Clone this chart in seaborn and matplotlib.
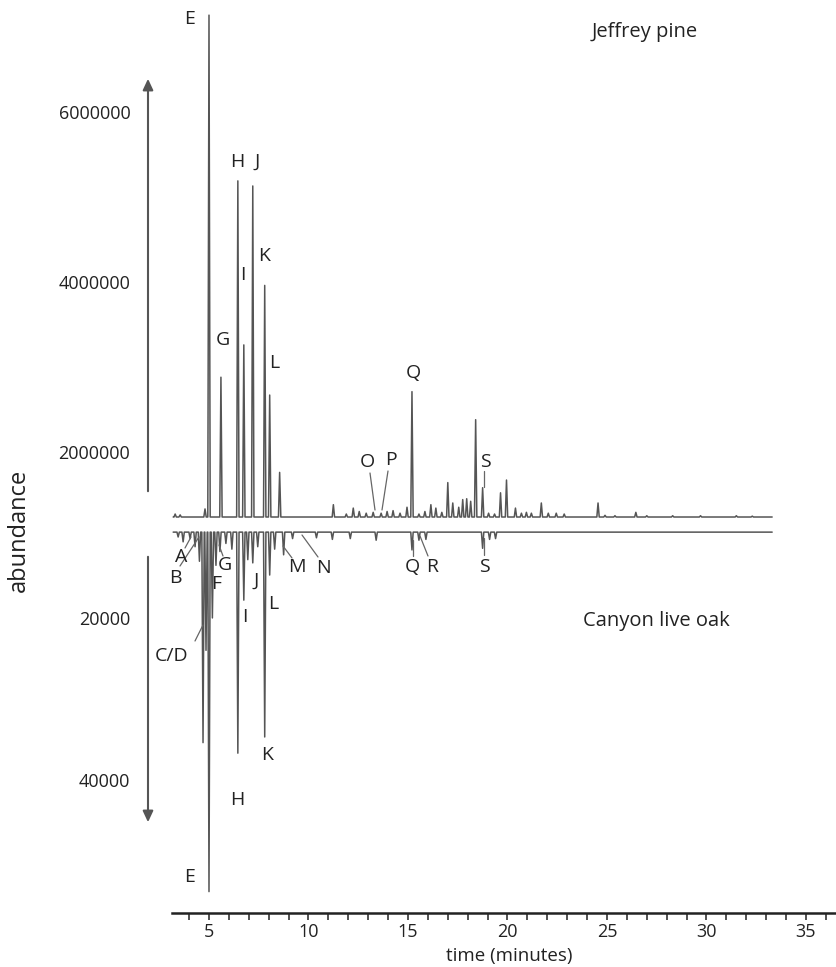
import matplotlib
matplotlib.use("Agg")
import matplotlib.pyplot as plt
import seaborn as sns
import pandas as pd
from matplotlib.lines import Line2D
from matplotlib.patches import FancyArrowPatch

# ---------------- data ----------------
pine_peak_time = [3.30, 3.55, 4.80, 5.00, 5.60, 6.45, 6.75, 7.20, 7.80, 8.05, 8.55,
                  11.25, 11.90, 12.25, 12.55, 12.90, 13.25, 13.65, 13.95, 14.25, 14.60,
                  14.95, 15.20, 15.55, 15.85, 16.15, 16.40, 16.70, 17.00, 17.25, 17.55,
                  17.75, 17.95, 18.15, 18.40, 18.75, 19.05, 19.35, 19.65, 19.95, 20.40,
                  20.70, 20.95, 21.20, 21.70, 22.05, 22.45, 22.85, 24.55, 24.90, 25.40,
                  26.45, 27.00, 28.30, 29.70, 31.50, 32.30]
pine_peak_abund = [1.27e6, 1.26e6, 1.33e6, 7.14e6, 2.88e6, 5.19e6, 3.26e6, 5.13e6, 3.96e6, 2.67e6, 1.76e6,
                   1.38e6, 1.27e6, 1.34e6, 1.30e6, 1.28e6, 1.29e6, 1.28e6, 1.30e6, 1.31e6, 1.28e6,
                   1.35e6, 2.71e6, 1.27e6, 1.30e6, 1.38e6, 1.34e6, 1.29e6, 1.64e6, 1.40e6, 1.35e6,
                   1.44e6, 1.45e6, 1.42e6, 2.38e6, 1.58e6, 1.28e6, 1.27e6, 1.52e6, 1.67e6, 1.34e6,
                   1.28e6, 1.29e6, 1.28e6, 1.40e6, 1.28e6, 1.28e6, 1.27e6, 1.40e6, 1.255e6, 1.25e6,
                   1.29e6, 1.25e6, 1.25e6, 1.25e6, 1.25e6, 1.245e6]
pine_baseline = 1.235e6

oak_peak_time = [3.45, 3.70, 4.05, 4.30, 4.52, 4.70, 4.85, 5.00, 5.17, 5.35, 5.55,
                 5.85, 6.15, 6.45, 6.75, 6.95, 7.20, 7.45, 7.80, 8.05, 8.30, 8.75,
                 9.20, 10.40, 11.20, 12.10, 13.40, 15.20, 15.55, 15.90, 18.75, 19.10, 19.40]
oak_peak_abund = [10000, 10600, 10200, 11200, 13000, 35400, 24000, 53800, 20000, 13500, 11800,
                  10800, 11500, 36700, 17800, 12800, 13200, 11200, 34700, 14700, 11500, 12200,
                  10200, 10100, 10300, 10200, 10400, 11600, 10400, 10300, 11400, 10300, 10200]
oak_baseline = 9400

run_start, run_end = 3.2, 33.3

pine_ticks = [2000000, 4000000, 6000000]
oak_ticks = [20000, 40000]
time_ticks = [5, 10, 15, 20, 25, 30, 35]

pine_labels = ["E", "H", "J", "K", "I", "G", "L", "Q", "O", "P", "S"]
oak_labels = ["A", "B", "C/D", "F", "G", "J", "L", "I", "M", "N", "Q", "R", "S", "K", "H", "E"]

# ---------------- build traces ----------------
def trace(times, heights, base, hw=0.06):
    xs, ys = [run_start], [base]
    for t, h in zip(times, heights):
        xs += [t - hw, t, t + hw]
        ys += [base, h, base]
    xs.append(run_end)
    ys.append(base)
    return pd.DataFrame({"time": xs, "abundance": ys})

pine_df = trace(pine_peak_time, pine_peak_abund, pine_baseline)
oak_df = trace(oak_peak_time, oak_peak_abund, oak_baseline)

# ---------------- figure ----------------
sns.set_theme(style="white")
plt.rcParams['font.family'] = ['Open Sans', 'DejaVu Sans']

W, H = 837, 967
fig = plt.figure(figsize=(W / 100, H / 100), dpi=100)

def fx(x):
    return x / W

def fy(y):
    return 1 - y / H

L_PX, MID_PX, AX_PX = 172, 525, 913
ax_top = fig.add_axes([fx(L_PX), fy(MID_PX), 1 - fx(L_PX), MID_PX / H])
ax_bot = fig.add_axes([fx(L_PX), fy(AX_PX), 1 - fx(L_PX), (AX_PX - MID_PX) / H], sharex=ax_top)

trace_color = "#555555"
sns.lineplot(data=pine_df, x="time", y="abundance", ax=ax_top, estimator=None, sort=False,
             color=trace_color, linewidth=1.1)
sns.lineplot(data=oak_df, x="time", y="abundance", ax=ax_bot, estimator=None, sort=False,
             color=trace_color, linewidth=1.1)

xmin, xmax = 3.141, 36.558
ax_top.set_xlim(xmin, xmax)
ax_top.set_ylim(1.141e6, 7.318e6)
ax_bot.set_ylim(56440, 8520)

text_color = "#222222"
for ax in (ax_top, ax_bot):
    for s in ax.spines.values():
        s.set_visible(False)
    ax.set_xlabel("")
    ax.set_ylabel("")
    ax.patch.set_alpha(0)
    ax.tick_params(axis="y", length=0, pad=30, labelsize=13, labelcolor=text_color)

ax_top.set_yticks(pine_ticks)
ax_top.set_yticklabels([str(v) for v in pine_ticks])
ax_bot.set_yticks(oak_ticks)
ax_bot.set_yticklabels([str(v) for v in oak_ticks])

ax_top.tick_params(axis="x", which="both", bottom=False, labelbottom=False)
ax_bot.spines["bottom"].set_visible(True)
ax_bot.spines["bottom"].set_color("#222222")
ax_bot.spines["bottom"].set_linewidth(1.8)
ax_bot.set_xticks(time_ticks)
ax_bot.set_xticklabels([str(v) for v in time_ticks])
ax_bot.set_xticks(list(range(4, 37)), minor=True)
ax_bot.tick_params(axis="x", which="both", bottom=True, direction="out", length=5,
                   width=1.1, color="#222222", labelsize=13, labelcolor=text_color, pad=2)

fig.text(fx(509), fy(956), "time (minutes)", ha="center", va="center", fontsize=13.5, color=text_color)
fig.text(fx(19), fy(530), "abundance", ha="center", va="center", rotation=90, fontsize=17, color=text_color)

# arrows on the left
arrow_kw = dict(arrowstyle="-|>,head_length=0.6,head_width=0.28", color="#555555", lw=1.5,
                transform=fig.transFigure, mutation_scale=11)
fig.add_artist(FancyArrowPatch((fx(148), fy(494)), (fx(148), fy(76)), **arrow_kw))
fig.add_artist(FancyArrowPatch((fx(148), fy(554)), (fx(148), fy(825)), **arrow_kw))

# peak letters (pixel positions)
pine_label_pos = [(190, 19), (237, 162), (257, 162), (264, 256), (243, 275), (223, 340),
                  (274, 363), (413, 373), (367, 462), (391, 460), (485, 462)]
oak_label_pos = [(181, 557), (175, 578), (172, 656), (216, 584), (225, 565), (256, 581),
                 (273, 604), (245, 617), (297, 567), (323, 568), (412, 567), (432, 567),
                 (484, 567), (267, 755), (237, 800), (190, 877)]
for lab, (x, y) in zip(pine_labels + oak_labels, pine_label_pos + oak_label_pos):
    fig.text(fx(x), fy(y), lab, ha="center", va="center", fontsize=14, color=text_color)

fig.text(fx(645), fy(32), "Jeffrey pine", ha="center", va="center", fontsize=14.5, color=text_color)
fig.text(fx(656), fy(621), "Canyon live oak", ha="center", va="center", fontsize=14.5, color=text_color)

# leader lines
leaders = [((370, 473), (375, 510)), ((388, 471), (382, 510)), ((484, 471), (484, 487)),
           ((185, 548), (191, 537)), ((180, 566), (199, 537)), ((195, 641), (203, 625)),
           ((219, 545), (223, 556)), ((283, 546), (292, 558)), ((302, 535), (318, 557)),
           ((413, 540), (413, 556)), ((420, 536), (428, 556)), ((484, 538), (484, 555))]
for (x0, y0), (x1, y1) in leaders:
    fig.add_artist(Line2D([fx(x0), fx(x1)], [fy(y0), fy(y1)], color="#666666", lw=0.9,
                          transform=fig.transFigure))

fig.savefig("out.png", dpi=100)
